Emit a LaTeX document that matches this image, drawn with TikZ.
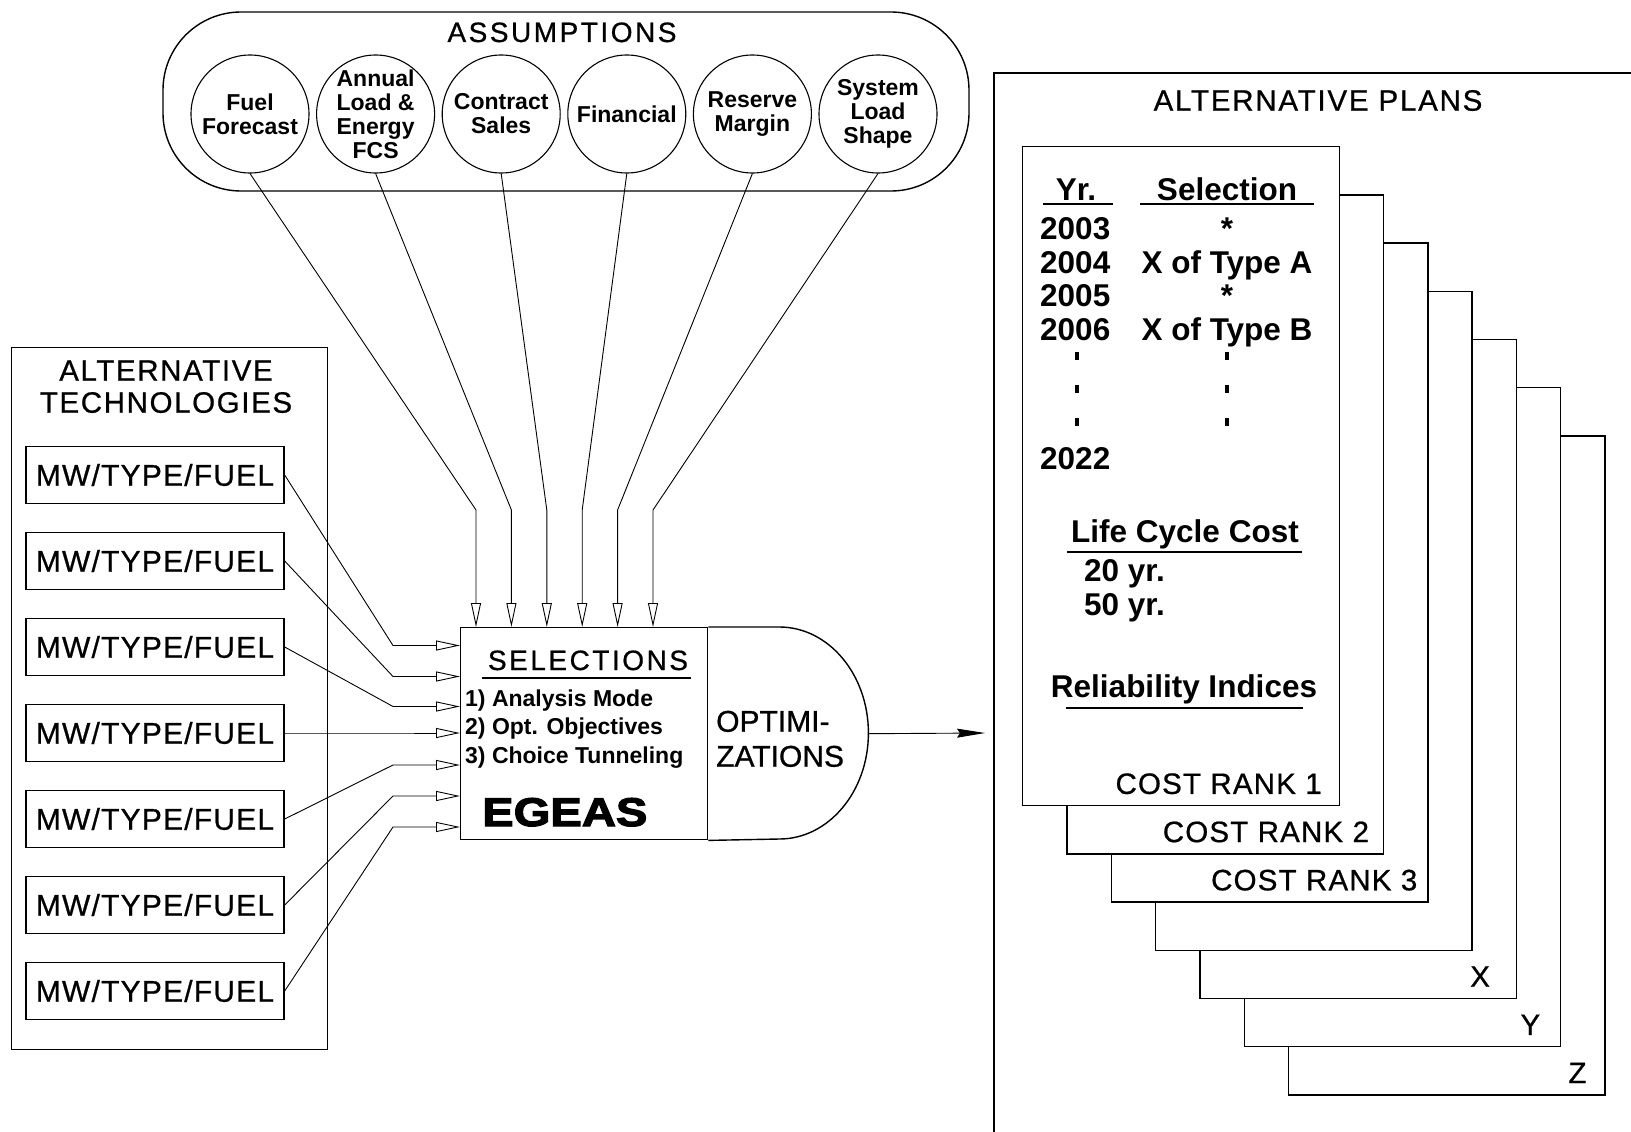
\documentclass[tikz,border=0pt]{standalone}
\usepackage{fontspec}
\setmainfont{Liberation Sans}
\newfontfamily\hfont[FakeBold=0.7]{Liberation Sans}
\newfontfamily\egeasfont[FakeStretch=1.18,FakeBold=3]{Liberation Sans}
\usetikzlibrary{arrows.meta,positioning}

\begin{document}
\begin{tikzpicture}[x=1pt,y=-1pt,
  box/.style={draw,line width=1.4pt,inner sep=0pt},
  link/.style={line width=0.9pt},
  feed/.style={link,-{Triangle[open,length=24pt,width=10pt,line width=0.9pt]}},
  bubble/.style={box,circle,line width=1.1pt,minimum size=118pt,align=center,
    font=\fontsize{23}{24}\selectfont\bfseries},
  hdr/.style={inner sep=0pt,anchor=base,font=\fontsize{29.5}{32}\hfont\addfontfeature{LetterSpace=5.5}},
  tech/.style={box,minimum width=258pt,minimum height=57pt,
    font=\fontsize{30}{32}\hfont\addfontfeature{LetterSpace=4}},
  plan/.style={box,fill=white,minimum width=316.5pt,minimum height=659pt,anchor=north west},
  entry/.style={inner sep=0pt,anchor=base,font=\fontsize{31.5}{34}\selectfont\bfseries},
  rank/.style={inner sep=0pt,anchor=base east,font=\fontsize{29.5}{32}\hfont\addfontfeature{LetterSpace=4}},
  uline/.style={line width=1.2pt}]
\fill[white] (0,0) rectangle (1631,1132);
\useasboundingbox (0,0) rectangle (1631,1132);

\node[box,rounded corners=78pt,minimum width=806pt,minimum height=179pt] (assum) at (566,101.5) {};
\node[hdr,font=\fontsize{28}{32}\hfont\addfontfeature{LetterSpace=9}] (assumt) at (562,42) {ASSUMPTIONS};
\foreach \nm/\lab [count=\k] in {fuel/{Fuel\\Forecast},load/{Annual\\Load \&\\Energy\\FCS},contr/{Contract\\Sales},fin/{Financial},resv/{Reserve\\Margin},lshape/{System\\Load\\Shape}} {
  \node[bubble] (\nm) at ({250+125.6*(\k-1)},114) {\lab};
  \coordinate (b\k) at ({440.6+35.4*\k},510);
}

\node[box,minimum width=247pt,minimum height=212pt,anchor=north west] (sel) at (460,627) {};
\draw[box] (sel.north east) -- ++(71,0) arc[start angle=90,end angle=-90,x radius=89pt,y radius=106pt] -- (sel.south east);
\node[hdr,font=\fontsize{28}{32}\hfont\addfontfeature{LetterSpace=9}] (selt) at (588,670) {SELECTIONS};
\draw[uline] (482,678) -- (691,678);
\foreach \txt [count=\k] in {1) Analysis Mode,2) Opt. Objectives,3) Choice Tunneling}
  \node[inner sep=0pt,anchor=base west,font=\fontsize{23}{24}\selectfont\bfseries] (mode\k) at (465,{677.4+28.6*\k}) {\txt};
\node[inner sep=0pt,anchor=base west,font=\fontsize{40}{42}\egeasfont\bfseries] (egeas) at (482,826) {EGEAS};
\node[inner sep=0pt,anchor=base west,font=\fontsize{30}{35}\hfont] (optim1) at (716,731.7) {OPTIMI-};
\node[inner sep=0pt,anchor=base west,font=\fontsize{30}{35}\hfont] (optim2) at (716,766.7) {ZATIONS};
\coordinate (optr) at ([xshift=160pt]sel.east);
\coordinate (planin) at (985,733);
\draw[link,-{Stealth[length=28pt,width=9pt,inset=3pt]}] (optr) -- (planin);

\foreach \nm [count=\k] in {fuel,load,contr,fin,resv,lshape}
  \draw[feed] (\nm.south) -- (b\k) -- (b\k |- sel.north);

\node[box,minimum width=316pt,minimum height=702pt,anchor=north west] (techs) at (11,347) {};
\node[hdr] (techt1) at (166,380.7) {ALTERNATIVE};
\node[hdr] (techt2) at (166,412.7) {TECHNOLOGIES};
\foreach \k/\ty in {1/645.5,2/676.5,3/706.5,4/733,5/765,6/796,7/827} {
  \node[tech] (mw\k) at (155,{475+86*(\k-1)}) {MW/TYPE/FUEL};
  \coordinate (t\k) at (393,\ty);
  \draw[feed] (mw\k.east) -- (t\k) -- (t\k -| sel.west);
}

\draw[box] (994,1132) -- (994,73) -- (1631,73);
\node[hdr,font=\fontsize{29.5}{32}\hfont\addfontfeature{LetterSpace=6}] (plant) at (1318,110.7) {ALTERNATIVE PLANS};
\foreach \i in {6,5,...,0}
  \node[plan] (p\i) at ({1022+44.3*\i},{146+48.2*\i}) {};
\foreach \i/\lab/\gap in {0/COST RANK 1/18pt,1/COST RANK 2/15pt,2/COST RANK 3/11pt,4/X/27pt,5/Y/21pt,6/Z/19pt}
  \node[rank] (r\i) at ([xshift=-\gap,yshift=12.5pt]p\i.south east) {\lab};

\node[entry] (yr) at (1076,200) {Yr.};
\node[entry] (selh) at (1227,200) {Selection};
\draw[uline] (1043,204) -- (1113,204);
\draw[uline] (1140,204) -- (1314,204);
\foreach \yy/\yr/\pick in {239.7/2003/*,273.3/2004/X of Type A,306/2005/*,340/2006/X of Type B} {
  \node[entry,anchor=base west] (y\yr) at (1040,\yy) {\yr};
  \node[entry] (s\yr) at (1227,\yy) {\pick};
}
\node[entry,anchor=base west] (y2022) at (1040,469.3) {2022};
\foreach \yy in {355.8,388.8,422.2} {
  \fill (1075,{\yy-4}) rectangle ++(3.5,8);
  \fill (1225,{\yy-4}) rectangle ++(3.5,8);
}
\node[entry] (lcc) at (1185,542.7) {Life Cycle Cost};
\draw[uline] (1067,552) -- (1302,552);
\node[entry,anchor=base west] (c20) at (1084,581.7) {20 yr.};
\node[entry,anchor=base west] (c50) at (1084,615) {50 yr.};
\node[entry] (rel) at (1184,697.3) {Reliability Indices};
\draw[uline] (1066,708) -- (1303,708);
\end{tikzpicture}
\end{document}
